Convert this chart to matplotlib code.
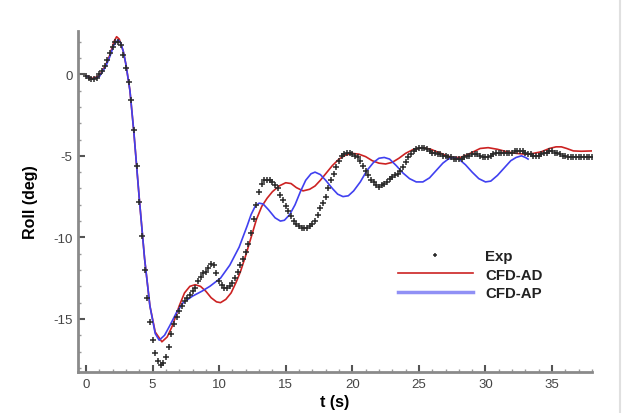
import matplotlib
matplotlib.use("Agg")
import matplotlib.pyplot as plt
from matplotlib.lines import Line2D
from matplotlib.ticker import MultipleLocator

plt.rcParams['font.family'] = ['Liberation Sans', 'DejaVu Sans']
plt.rcParams['axes.unicode_minus'] = False

# ---------------- data ----------------
t_exp = [0.0, 0.2, 0.4, 0.6, 0.8, 1.0, 1.2, 1.4, 1.6, 1.8,
         2.0, 2.2, 2.4, 2.6, 2.8, 3.0, 3.2, 3.4, 3.6, 3.8,
         4.0, 4.2, 4.4, 4.6, 4.8, 5.0, 5.2, 5.4, 5.6, 5.8,
         6.0, 6.2, 6.4, 6.6, 6.8, 7.0, 7.2, 7.4, 7.6, 7.8,
         8.0, 8.2, 8.4, 8.6, 8.8, 9.0, 9.2, 9.4, 9.6, 9.8,
         10.0, 10.2, 10.4, 10.6, 10.8, 11.0, 11.2, 11.4, 11.6, 11.8,
         12.0, 12.2, 12.4, 12.6, 12.8, 13.0, 13.2, 13.4, 13.6, 13.8,
         14.0, 14.2, 14.4, 14.6, 14.8, 15.0, 15.2, 15.4, 15.6, 15.8,
         16.0, 16.2, 16.4, 16.6, 16.8, 17.0, 17.2, 17.4, 17.6, 17.8,
         18.0, 18.2, 18.4, 18.6, 18.8, 19.0, 19.2, 19.4, 19.6, 19.8,
         20.0, 20.2, 20.4, 20.6, 20.8, 21.0, 21.2, 21.4, 21.6, 21.8,
         22.0, 22.2, 22.4, 22.6, 22.8, 23.0, 23.2, 23.4, 23.6, 23.8,
         24.0, 24.2, 24.4, 24.6, 24.8, 25.0, 25.2, 25.4, 25.6, 25.8,
         26.0, 26.2, 26.4, 26.6, 26.8, 27.0, 27.2, 27.4, 27.6, 27.8,
         28.0, 28.2, 28.4, 28.6, 28.8, 29.0, 29.2, 29.4, 29.6, 29.8,
         30.0, 30.2, 30.4, 30.6, 30.8, 31.0, 31.2, 31.4, 31.6, 31.8,
         32.0, 32.2, 32.4, 32.6, 32.8, 33.0, 33.2, 33.4, 33.6, 33.8,
         34.0, 34.2, 34.4, 34.6, 34.8, 35.0, 35.2, 35.4, 35.6, 35.8,
         36.0, 36.2, 36.4, 36.6, 36.8, 37.0, 37.2, 37.4, 37.6, 37.8,
         38.0]
roll_exp = [-0.1, -0.2, -0.3, -0.3, -0.2, 0.0, 0.2, 0.5, 0.9, 1.3,
            1.7, 2.0, 2.0, 1.8, 1.2, 0.4, -0.5, -1.6, -3.4, -5.6,
            -7.8, -9.9, -12.0, -13.7, -15.2, -16.3, -17.1, -17.6, -17.8, -17.7,
            -17.3, -16.7, -15.9, -15.3, -14.9, -14.5, -14.2, -13.9, -13.7, -13.5,
            -13.3, -13.1, -12.7, -12.4, -12.2, -12.1, -11.9, -11.6, -11.7, -12.2,
            -12.7, -12.9, -13.1, -13.1, -13.0, -12.8, -12.5, -12.1, -11.7, -11.3,
            -10.9, -10.4, -9.7, -8.9, -8.0, -7.2, -6.7, -6.5, -6.5, -6.5,
            -6.6, -6.8, -7.0, -7.4, -7.7, -8.1, -8.4, -8.7, -9.0, -9.2,
            -9.3, -9.4, -9.4, -9.4, -9.3, -9.2, -9.0, -8.6, -8.2, -7.9,
            -7.5, -7.0, -6.5, -6.1, -5.7, -5.3, -5.0, -4.9, -4.8, -4.8,
            -4.9, -5.0, -5.1, -5.3, -5.6, -5.9, -6.2, -6.5, -6.6, -6.8,
            -6.9, -6.8, -6.7, -6.6, -6.4, -6.3, -6.2, -6.1, -5.9, -5.7,
            -5.4, -5.1, -4.9, -4.7, -4.6, -4.5, -4.5, -4.5, -4.6, -4.7,
            -4.8, -4.8, -4.9, -4.9, -5.0, -5.0, -5.1, -5.1, -5.2, -5.2,
            -5.2, -5.2, -5.1, -5.0, -5.0, -4.9, -4.9, -4.9, -5.0, -5.1,
            -5.1, -5.1, -5.0, -4.9, -4.8, -4.8, -4.8, -4.8, -4.8, -4.8,
            -4.8, -4.7, -4.7, -4.7, -4.7, -4.8, -4.9, -4.9, -5.0, -5.0,
            -5.0, -4.9, -4.8, -4.8, -4.7, -4.7, -4.8, -4.8, -4.9, -5.0,
            -5.0, -5.1, -5.1, -5.1, -5.1, -5.1, -5.1, -5.1, -5.1, -5.1,
            -5.1]

t_ad = [0.0, 0.5, 1.0, 1.5, 1.8, 2.1, 2.3, 2.5, 2.8, 3.0,
        3.3, 3.6, 4.0, 4.4, 4.8, 5.2, 5.7, 6.1, 6.5, 7.0,
        7.4, 7.8, 8.2, 8.6, 9.0, 9.4, 9.8, 10.1, 10.5, 10.9,
        11.3, 11.6, 12.0, 12.4, 12.8, 13.2, 13.6, 14.0, 14.5, 15.0,
        15.4, 15.8, 16.3, 16.8, 17.2, 17.6, 18.0, 18.5, 19.0, 19.5,
        20.0, 20.5, 21.0, 21.5, 22.0, 22.5, 23.0, 23.5, 24.0, 24.6,
        25.3, 25.9, 26.5, 27.1, 27.6, 28.1, 28.6, 29.1, 29.6, 30.2,
        30.9, 31.6, 32.3, 33.0, 33.6, 34.2, 34.8, 35.3, 35.7, 36.1,
        36.6, 37.2, 38.0]
roll_ad = [-0.1, -0.25, -0.1, 0.6, 1.2, 2.0, 2.3, 2.15, 1.4, 0.6,
           -1.0, -3.6, -7.6, -11.3, -14.2, -15.8, -16.4, -16.1, -15.4, -14.2,
           -13.4, -13.0, -12.9, -13.0, -13.3, -13.7, -13.95, -14.0, -13.8, -13.4,
           -12.7, -12.1, -11.1, -10.0, -8.9, -8.1, -7.6, -7.2, -6.85, -6.65,
           -6.7, -6.95, -7.15, -7.05, -6.85, -6.5, -6.1, -5.6, -5.2, -4.95,
           -4.85, -4.9, -5.05, -5.3, -5.45, -5.5, -5.4, -5.15, -4.85, -4.6,
           -4.5, -4.6, -4.8, -5.0, -5.1, -5.1, -4.95, -4.75, -4.55, -4.5,
           -4.6, -4.75, -4.85, -4.9, -4.85, -4.75, -4.55, -4.45, -4.45, -4.55,
           -4.7, -4.72, -4.7]

t_ap = [0.0, 0.5, 1.0, 1.5, 1.8, 2.1, 2.4, 2.6, 2.8, 3.0,
        3.3, 3.6, 4.0, 4.4, 4.8, 5.2, 5.5, 5.9, 6.3, 6.8,
        7.3, 8.0, 8.7, 9.3, 10.1, 10.8, 11.5, 12.1, 12.4, 12.7,
        13.0, 13.3, 13.7, 14.2, 14.6, 14.9, 15.3, 15.7, 16.1, 16.5,
        16.9, 17.2, 17.6, 18.0, 18.5, 18.9, 19.3, 19.7, 20.1, 20.6,
        21.1, 21.6, 22.0, 22.4, 22.8, 23.3, 23.8, 24.3, 24.8, 25.3,
        25.8, 26.3, 26.8, 27.2, 27.6, 28.0, 28.5, 29.0, 29.5, 30.0,
        30.4, 30.9, 31.4, 31.9, 32.3, 32.7, 33.0, 33.2]
roll_ap = [-0.1, -0.3, -0.15, 0.5, 1.1, 1.8, 2.1, 1.95, 1.4, 0.6,
           -1.0, -3.6, -7.6, -11.3, -14.2, -15.9, -16.3, -16.0, -15.4, -14.6,
           -14.0, -13.6, -13.3, -13.0, -12.5, -11.7, -10.6, -9.3, -8.6, -8.1,
           -7.9, -7.95, -8.3, -8.8, -9.0, -8.95, -8.6, -8.0, -7.2, -6.5,
           -6.1, -6.0, -6.15, -6.5, -7.0, -7.35, -7.5, -7.45, -7.15, -6.6,
           -5.9, -5.4, -5.15, -5.1, -5.2, -5.6, -6.05, -6.4, -6.6, -6.6,
           -6.35, -5.9, -5.45, -5.2, -5.1, -5.2, -5.55, -6.0, -6.4, -6.6,
           -6.55, -6.2, -5.75, -5.3, -5.1, -5.0, -5.1, -5.2]

x_ticks = [0, 5, 10, 15, 20, 25, 30, 35]
y_ticks = [0, -5, -10, -15]
labels = ["Exp", "CFD-AD", "CFD-AP"]

# ---------------- figure ----------------
fig = plt.figure(figsize=(6.27, 4.14), dpi=100)
ax = fig.add_axes([78/627, 1-373/414, (592-78)/627, (373-32)/414])

red = '#cc2222'
blue = '#4040f0'
ax.plot(t_ad, roll_ad, color=red, lw=1.2, label=labels[1], zorder=3)
ax.plot(t_ap, roll_ap, color=blue, lw=1.2, label=labels[2], zorder=4)
ax.plot(t_exp, roll_exp, linestyle='none', marker='+', color='#2a2a2a',
        markersize=3.8, mew=1.1, label=labels[0], zorder=5)

ax.set_xlim(-0.6, 38.0)
ax.set_ylim(-18.25, 2.65)

for s in ['top', 'right']:
    ax.spines[s].set_visible(False)
for s in ['left', 'bottom']:
    ax.spines[s].set_color('#8a8a8a')
    ax.spines[s].set_linewidth(2.0)

ax.set_xticks(x_ticks)
ax.set_yticks(y_ticks)
ax.xaxis.set_minor_locator(MultipleLocator(1))
ax.yaxis.set_minor_locator(MultipleLocator(1))
ax.tick_params(which='major', direction='in', length=5, width=1.5,
               color='#555555', labelsize=9.5, labelcolor='#444444', pad=4)
ax.tick_params(which='minor', direction='in', length=2.5, width=1.0,
               color='#999999')

ax.set_xlabel('t (s)', fontsize=11.5, fontweight='bold', labelpad=3)
ax.set_ylabel('Roll (deg)', fontsize=11.5, fontweight='bold', labelpad=11)

handles, labs = ax.get_legend_handles_labels()
order = [2, 0, 1]
leg = ax.legend([handles[i] for i in order], [labs[i] for i in order],
                loc='upper left', bbox_to_anchor=(398/627, 1-250/414),
                bbox_transform=fig.transFigure, frameon=False,
                fontsize=10.8, handlelength=5.0, handletextpad=0.8,
                labelspacing=0.30, borderpad=0, borderaxespad=0)
for txt in leg.get_texts():
    txt.set_fontweight('bold')
    txt.set_color('#222222')
leg.legend_handles[0].set_markersize(3.5)
leg.legend_handles[2].set_color('#9090f5')
leg.legend_handles[2].set_linewidth(2.5)

fig.add_artist(Line2D([620/627, 620/627], [0, 1], transform=fig.transFigure,
                      color='#e0e0e0', lw=1.5))

fig.savefig('out.png', dpi=100)
